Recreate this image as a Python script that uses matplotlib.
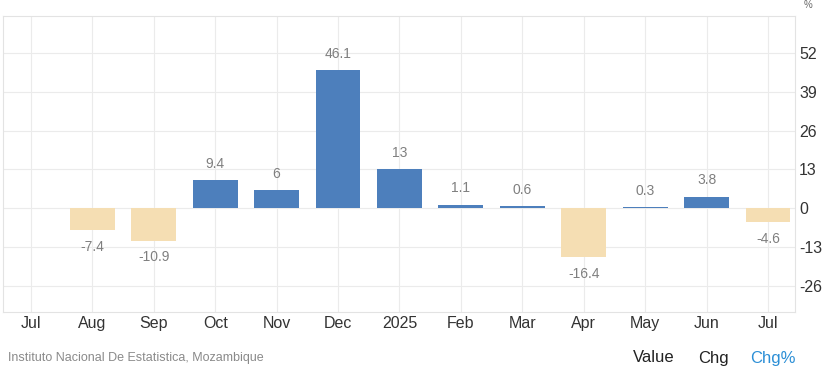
import matplotlib.pyplot as plt

plt.rcParams['font.family'] = ['Liberation Sans', 'DejaVu Sans']
plt.rcParams['axes.unicode_minus'] = False

months = ["Jul", "Aug", "Sep", "Oct", "Nov", "Dec", "2025", "Feb", "Mar", "Apr", "May", "Jun", "Jul"]
chg_pct = [None, -7.4, -10.9, 9.4, 6, 46.1, 13, 1.1, 0.6, -16.4, 0.3, 3.8, -4.6]
labels = ["", "-7.4", "-10.9", "9.4", "6", "46.1", "13", "1.1", "0.6", "-16.4", "0.3", "3.8", "-4.6"]
yticks = [-26, -13, 0, 13, 26, 39, 52]

W, H = 833, 372
fig = plt.figure(figsize=(W / 100, H / 100), dpi=100)
ax = fig.add_axes([3 / W, 1 - 312 / H, (795 - 3) / W, (312 - 16) / H])

x = list(range(len(months)))
for i, v in enumerate(chg_pct):
    if v is None:
        continue
    color = "#4d7fbc" if v >= 0 else "#f5deb3"
    ax.bar(i, v, width=0.73, color=color, zorder=2)
    if v >= 0:
        ax.text(i, v + 3.2, labels[i], ha="center", va="bottom", fontsize=10, color="#7f7f7f")
    else:
        ax.text(i, v - 3.2, labels[i], ha="center", va="top", fontsize=10, color="#7f7f7f")

ax.set_xlim(-0.455, 12.44)
ax.set_ylim(-34.7, 64.3)
ax.set_xticks(x)
ax.set_xticklabels(months)
ax.set_yticks(yticks)
ax.yaxis.tick_right()
ax.tick_params(axis="both", length=0, labelsize=11.5, colors="#333333")
ax.tick_params(axis="x", pad=3)
ax.tick_params(axis="y", pad=3)
ax.grid(True, color="#ebebeb", lw=0.8, zorder=0)
for s in ax.spines.values():
    s.set_color("#e3e3e3")
    s.set_linewidth(0.8)

fig.text(8 / W, 1 - 358 / H, "Instituto Nacional De Estatistica, Mozambique",
         fontsize=9, color="#8a8a8a", va="center", ha="left")
fig.text(675 / W, 1 - 358 / H, "Value", fontsize=12, color="#222222", va="center", ha="right")
fig.text(729 / W, 1 - 358 / H, "Chg", fontsize=12, color="#222222", va="center", ha="right")
fig.text(796 / W, 1 - 358 / H, "Chg%", fontsize=12, color="#2c8fd6", va="center", ha="right")
fig.text(808 / W, 1 - 5 / H, "%", fontsize=7, color="#666666", va="center", ha="center")

fig.savefig("out.png", dpi=100, facecolor="white")
